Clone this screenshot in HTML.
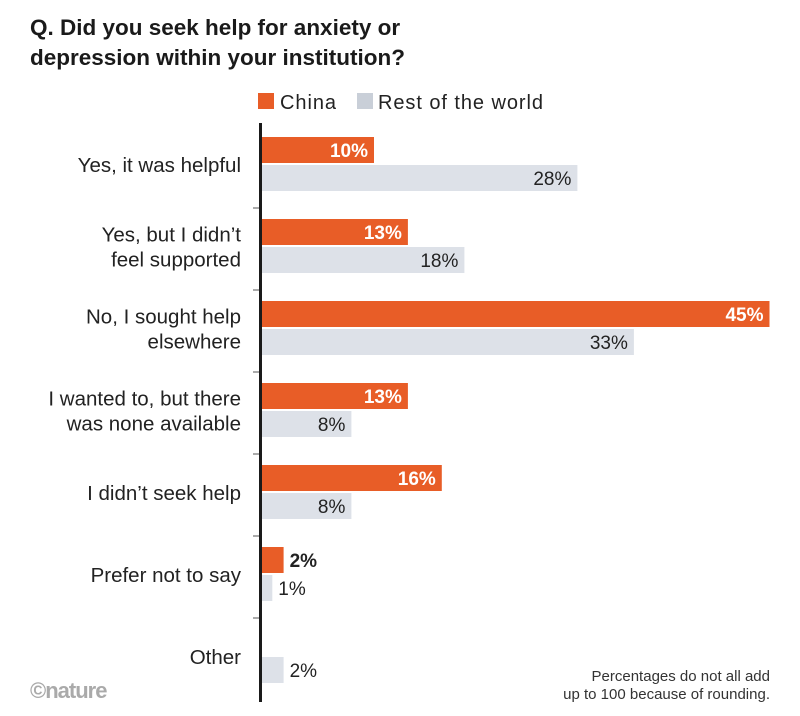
<!DOCTYPE html>
<html><head><meta charset="utf-8"><style>
body{margin:0;background:#fff;width:800px;height:716px;overflow:hidden}
svg{display:block;font-family:"Liberation Sans",sans-serif}
</style></head><body>
<svg id="c" width="800" height="716">
<text x="30" y="35" font-size="22.5" font-weight="bold" fill="#1a1a1a">Q. Did you seek help for anxiety or</text>
<text x="30" y="65" font-size="22.5" font-weight="bold" fill="#1a1a1a">depression within your institution?</text>
<g>
<rect x="258" y="93" width="16" height="16" fill="#e85d27"/>
<text x="280" y="109" font-size="20" fill="#222" textLength="56">China</text>
<rect x="357" y="93" width="16" height="16" fill="#c9cfd8"/>
<text x="378" y="109" font-size="20" fill="#222" textLength="165">Rest of the world</text>
</g>
<g id="bars"></g>
<line x1="260.5" y1="123" x2="260.5" y2="702" stroke="#1a1a1a" stroke-width="3"/>
<text x="30" y="698" font-size="22" font-weight="bold" fill="#aaa" letter-spacing="-1">©nature</text>
<text x="770" y="681" font-size="15" fill="#333" text-anchor="end">Percentages do not all add</text>
<text x="770" y="699" font-size="15" fill="#333" text-anchor="end">up to 100 because of rounding.</text>
</svg>
<script>
const categories=[["Yes, it was helpful"],["Yes, but I didn’t","feel supported"],["No, I sought help","elsewhere"],["I wanted to, but there","was none available"],["I didn’t seek help"],["Prefer not to say"],["Other"]];
const china=[10,13,45,13,16,2,0];
const rest=[28,18,33,8,8,1,2];
const NS="http://www.w3.org/2000/svg";
const g=document.getElementById('bars');
const x0=261, pxPer=11.3, rowTop=126, rowH=82;
const xs=v=>x0+v*pxPer;
function el(t,a){const e=document.createElementNS(NS,t);for(const k in a)e.setAttribute(k,a[k]);g.appendChild(e);return e;}
categories.forEach((lines,i)=>{
  const top=rowTop+i*rowH;
  const mid=top+39;
  lines.forEach((s,j)=>{
    const t=el('text',{x:241,y:mid+7+(j-(lines.length-1)/2)*25,'font-size':20.5,fill:'#222','text-anchor':'end'});
    t.textContent=s;
    
    
  });
  if(i>0){const tk=el('line',{x1:253,x2:260,y1:top,y2:top,stroke:'#555','stroke-width':1});
    
    }
  const series=[[china[i],'#e85d27',top+11,'china'],[rest[i],'#dde1e8',top+39,'rest']];
  series.forEach(([v,col,y,nm])=>{
    if(v<=0)return;
    const w=xs(v)-x0;
    const r=el('rect',{x:x0,y:y,width:w,height:26,fill:col});
    
    
    const inside=v>=5;
    const t=el('text',{x:inside?xs(v)-6:xs(v)+6,y:y+20,'font-size':19,'text-anchor':inside?'end':'start',
      fill:(nm=='china'&&inside)?'#fff':'#222','font-weight':nm=='china'?'bold':'normal'});
    t.textContent=v+'%';
    
    
  });
});
</script>
</body></html>
